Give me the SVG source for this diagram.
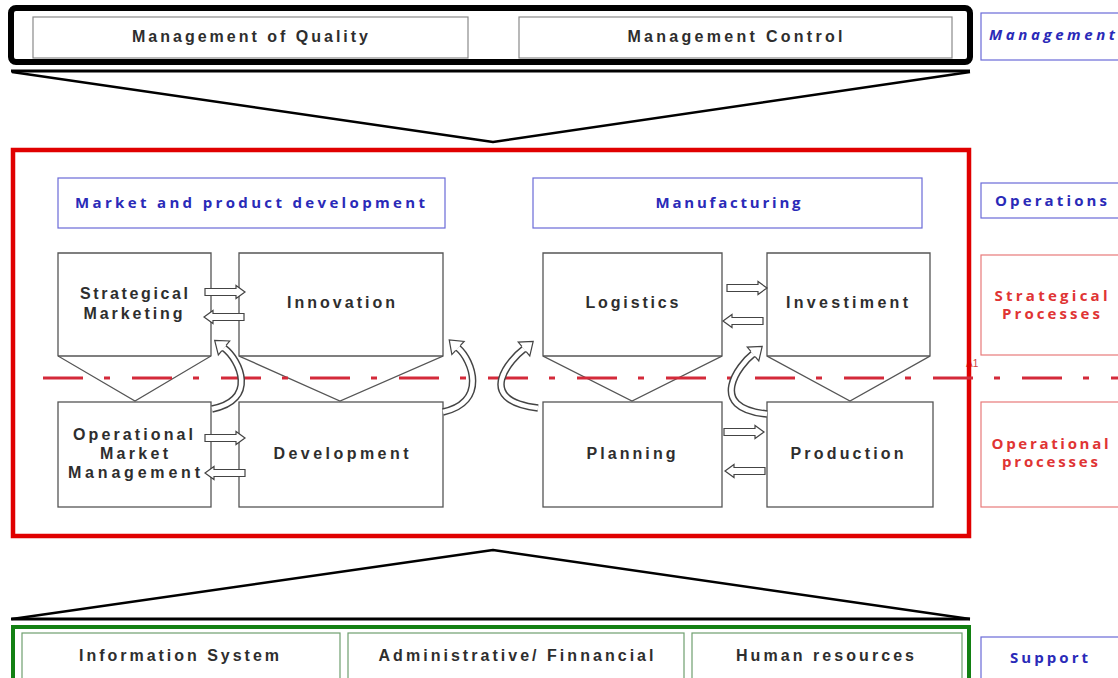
<svg xmlns="http://www.w3.org/2000/svg" width="1118" height="678" viewBox="0 0 1118 678">
  <defs>
    <style>
      .bg { fill: #ffffff; }
      .proc { fill: #ffffff; stroke: #555555; stroke-width: 1.3; }
      .thin { fill: #ffffff; stroke: #8a8a8a; stroke-width: 1.2; }
      .gbox { fill: #ffffff; stroke: #6f9f6f; stroke-width: 1.2; }
      .bluebox { fill: #ffffff; stroke: #6a6ad8; stroke-width: 1.2; }
      .redbox { fill: #ffffff; stroke: #e87a7a; stroke-width: 1.2; }
      .txt { font-family: "Liberation Sans", Arial, sans-serif; font-weight: 700; font-size: 16px; fill: #2e2e2e; text-anchor: middle; }
      .btxt { font-family: "Open Sans", "DejaVu Sans", sans-serif; font-weight: 700; font-size: 15px; fill: #2a2ab8; }
      .rtxt { font-family: "Open Sans", "DejaVu Sans", sans-serif; font-weight: 700; font-size: 15px; fill: #e03434; text-anchor: middle; }
      .frame { fill: none; stroke: #000000; stroke-linejoin: round; }
      .blk { fill: #ffffff; stroke: #444444; stroke-width: 1.2; }
      .band-o { fill: none; stroke: #444444; stroke-width: 7.5; }
      .band-i { fill: none; stroke: #ffffff; stroke-width: 4.6; }
      .head { fill: #ffffff; stroke: #444444; stroke-width: 1.2; stroke-linejoin: miter; }
    </style>
    <!-- hollow block arrow, 40 long, pointing right -->
    <path id="blockArrow" d="M0,-3.5 H31 V-6.5 L40,0 L31,6.5 V3.5 H0 Z"/>
    <!-- open head for the curved hollow arrows, pointing +x -->
    <path id="curveHead" d="M0,-3.3 L0,-9 L12,0 L0,9 L0,3.3"/>
  </defs>

  <rect class="bg" x="0" y="0" width="1118" height="678"/>

  <!-- management layer -->
  <g id="management-frame">
    <rect class="frame" x="11" y="8" width="959" height="54" rx="5" stroke-width="6" fill="#ffffff"/>
    <line x1="11" y1="71" x2="970" y2="71" stroke="#000" stroke-width="3"/>
    <polyline class="frame" points="12,72 493,142 970,72" stroke-width="2.5"/>
  </g>
  <g id="node-quality">
    <rect class="thin" x="33" y="17" width="435" height="41"/>
    <text class="txt" x="250" y="42" textLength="236" lengthAdjust="spacing">Management of Quality</text>
  </g>
  <g id="node-control">
    <rect class="thin" x="519" y="17" width="433" height="41"/>
    <text class="txt" x="735" y="42" textLength="215" lengthAdjust="spacing">Management Control</text>
  </g>

  <!-- row labels on the right -->
  <g id="label-management">
    <rect class="bluebox" x="981" y="13" width="150" height="47"/>
    <text class="btxt" x="989" y="40" font-style="italic" textLength="126" lengthAdjust="spacing">Management</text>
  </g>
  <g id="label-operations">
    <rect class="bluebox" x="981" y="183" width="150" height="35"/>
    <text class="btxt" x="995" y="206" textLength="112" lengthAdjust="spacing">Operations</text>
  </g>
  <g id="label-strategical">
    <rect class="redbox" x="981" y="255" width="150" height="100"/>
    <text class="rtxt" x="1051" y="301" textLength="113" lengthAdjust="spacing">Strategical</text>
    <text class="rtxt" x="1051" y="319" textLength="98" lengthAdjust="spacing">Processes</text>
  </g>
  <g id="label-operational">
    <rect class="redbox" x="981" y="402" width="150" height="105"/>
    <text class="rtxt" x="1050" y="449" textLength="117" lengthAdjust="spacing">Operational</text>
    <text class="rtxt" x="1050" y="467" textLength="96" lengthAdjust="spacing">processes</text>
  </g>
  <g id="label-support">
    <rect class="bluebox" x="981" y="637" width="150" height="50"/>
    <text class="btxt" x="1010" y="663" textLength="78" lengthAdjust="spacing">Support</text>
  </g>

  <text x="966" y="367" font-family="Liberation Sans, Arial, sans-serif" font-size="10" fill="#d04040">A1</text>

  <!-- operations frame -->
  <g id="operations-frame">
    <rect x="13" y="150" width="956" height="386" fill="none" stroke="#e00000" stroke-width="4.5"/>
  </g>
  <g id="node-market-dev">
    <rect class="bluebox" x="58" y="178" width="387" height="50"/>
    <text class="btxt" x="250" y="208" text-anchor="middle" textLength="350" lengthAdjust="spacing">Market and product development</text>
  </g>
  <g id="node-manufacturing">
    <rect class="bluebox" x="533" y="178" width="389" height="50"/>
    <text class="btxt" x="728" y="208" text-anchor="middle" textLength="145" lengthAdjust="spacing">Manufacturing</text>
  </g>

  <!-- strategical processes (boxes with a pointed base) -->
  <g id="node-strategical-marketing">
    <path class="proc" d="M58,253 H211 V356 L135,401 L58,356 Z"/>
    <line x1="58" y1="356" x2="211" y2="356" stroke="#555" stroke-width="1.3"/>
    <text class="txt" x="134" y="299" textLength="108" lengthAdjust="spacing">Strategical</text>
    <text class="txt" x="133" y="319" textLength="99" lengthAdjust="spacing">Marketing</text>
  </g>
  <g id="node-innovation">
    <path class="proc" d="M239,253 H443 V356 L340,401 L239,356 Z"/>
    <line x1="239" y1="356" x2="443" y2="356" stroke="#555" stroke-width="1.3"/>
    <text class="txt" x="341" y="308" textLength="108" lengthAdjust="spacing">Innovation</text>
  </g>
  <g id="node-logistics">
    <path class="proc" d="M543,253 H722 V356 L632,401 L543,356 Z"/>
    <line x1="543" y1="356" x2="722" y2="356" stroke="#555" stroke-width="1.3"/>
    <text class="txt" x="632" y="308" textLength="93" lengthAdjust="spacing">Logistics</text>
  </g>
  <g id="node-investiment">
    <path class="proc" d="M767,253 H930 V356 L850,401 L767,356 Z"/>
    <line x1="767" y1="356" x2="930" y2="356" stroke="#555" stroke-width="1.3"/>
    <text class="txt" x="847" y="308" textLength="122" lengthAdjust="spacing">Investiment</text>
  </g>

  <!-- operational processes -->
  <g id="node-operational-market">
    <rect class="proc" x="58" y="402" width="153" height="105"/>
    <text class="txt" x="133" y="440" textLength="120" lengthAdjust="spacing">Operational</text>
    <text class="txt" x="134" y="459" textLength="68" lengthAdjust="spacing">Market</text>
    <text class="txt" x="134" y="478" textLength="132" lengthAdjust="spacing">Management</text>
  </g>
  <g id="node-development">
    <rect class="proc" x="239" y="402" width="204" height="105"/>
    <text class="txt" x="341" y="459" textLength="135" lengthAdjust="spacing">Development</text>
  </g>
  <g id="node-planning">
    <rect class="proc" x="543" y="402" width="179" height="105"/>
    <text class="txt" x="631" y="459" textLength="89" lengthAdjust="spacing">Planning</text>
  </g>
  <g id="node-production">
    <rect class="proc" x="767" y="402" width="166" height="105"/>
    <text class="txt" x="847" y="459" textLength="113" lengthAdjust="spacing">Production</text>
  </g>

  <!-- boundary between strategical and operational level -->
  <line x1="43" y1="378" x2="1118" y2="378" stroke="#d42a3a" stroke-width="3" stroke-dasharray="40 21 6 22"/>

  <!-- support layer -->
  <g id="support-frame">
    <polyline class="frame" points="12,619 493,550 970,619" stroke-width="2.5"/>
    <line x1="11" y1="619" x2="970" y2="619" stroke="#000" stroke-width="3"/>
    <rect x="13" y="627" width="956" height="62" fill="#ffffff" stroke="#128012" stroke-width="4"/>
  </g>
  <g id="node-information-system">
    <rect class="gbox" x="22" y="633" width="318" height="60"/>
    <text class="txt" x="179" y="661" textLength="200" lengthAdjust="spacing">Information System</text>
  </g>
  <g id="node-administrative">
    <rect class="gbox" x="348" y="633" width="336" height="60"/>
    <text class="txt" x="516" y="661" textLength="275" lengthAdjust="spacing">Administrative/ Finnancial</text>
  </g>
  <g id="node-human-resources">
    <rect class="gbox" x="692" y="633" width="270" height="60"/>
    <text class="txt" x="825" y="661" textLength="178" lengthAdjust="spacing">Human resources</text>
  </g>

  <!-- connectors -->
  <g id="connectors">
    <!-- straight hollow arrows between neighbouring processes -->
    <use href="#blockArrow" class="blk" transform="translate(205,292)"/>
    <use href="#blockArrow" class="blk" transform="translate(244,317) scale(-1,1)"/>
    <use href="#blockArrow" class="blk" transform="translate(205,438)"/>
    <use href="#blockArrow" class="blk" transform="translate(245,473) scale(-1,1)"/>
    <use href="#blockArrow" class="blk" transform="translate(727,288)"/>
    <use href="#blockArrow" class="blk" transform="translate(763,321) scale(-1,1)"/>
    <use href="#blockArrow" class="blk" transform="translate(724,432)"/>
    <use href="#blockArrow" class="blk" transform="translate(765,471) scale(-1,1)"/>

    <!-- curved hollow arrows from operational to strategical level -->
    <path class="band-o" d="M212,409 C258,400 240,360 224,348"/>
    <path class="band-i" d="M212,409 C258,400 240,360 224,348"/>
    <use href="#curveHead" class="head" transform="translate(224,348) rotate(-141)"/>

    <path class="band-o" d="M443,412 C488,402 472,360 458,348"/>
    <path class="band-i" d="M443,412 C488,402 472,360 458,348"/>
    <use href="#curveHead" class="head" transform="translate(458,348) rotate(-137)"/>

    <path class="band-o" d="M538,408 C472,400 512,358 524,349"/>
    <path class="band-i" d="M538,408 C472,400 512,358 524,349"/>
    <use href="#curveHead" class="head" transform="translate(524,349) rotate(-40)"/>

    <path class="band-o" d="M767,414 C705,408 740,364 753,354"/>
    <path class="band-i" d="M767,414 C705,408 740,364 753,354"/>
    <use href="#curveHead" class="head" transform="translate(753,354) rotate(-40)"/>
  </g>
</svg>
